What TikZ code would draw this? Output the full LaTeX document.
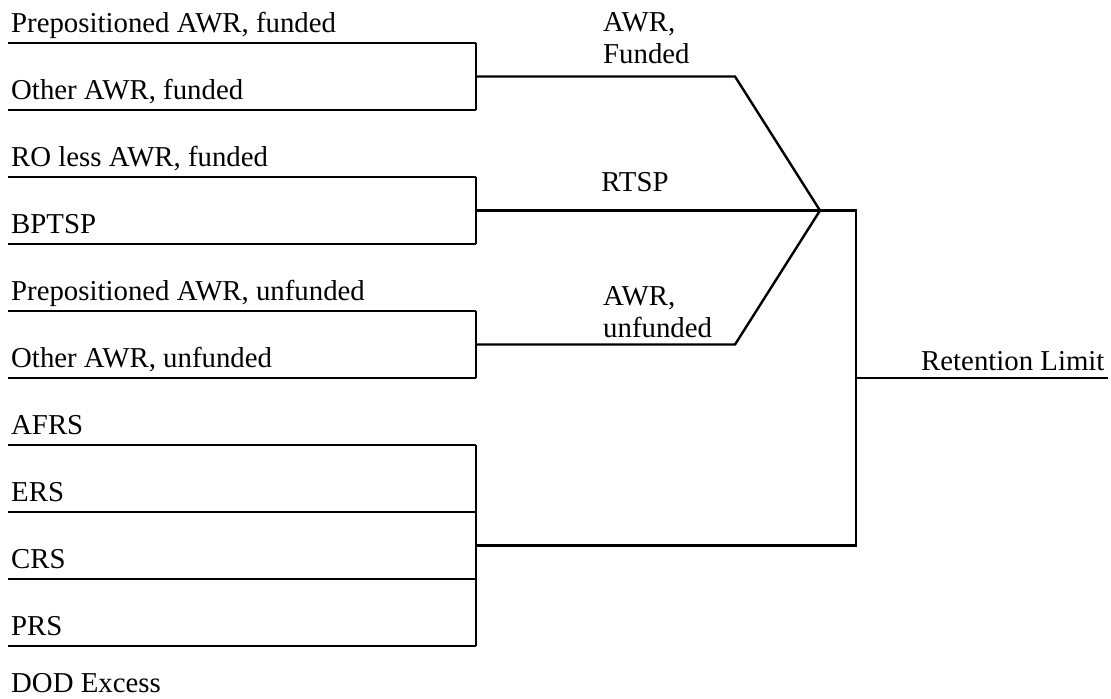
\documentclass[tikz,border=0pt]{standalone}
\usepackage{fontspec}
\setmainfont{Liberation Serif}

\begin{document}
\begin{tikzpicture}[x=0.5pt,y=-0.5pt,line width=1.2pt,every node/.style={inner sep=0,font=\fontsize{14.4}{16}\selectfont}]
  \useasboundingbox (0,0) rectangle (1111,698);
  % source rows, each with its rule
  \foreach \n/\y/\t in {pf/43/{Prepositioned AWR, funded},of/110/{Other AWR, funded},ro/177/{RO less AWR, funded},bp/244/BPTSP,pu/311/{Prepositioned AWR, unfunded},ou/378/{Other AWR, unfunded},afrs/445/AFRS,ers/512/ERS,crs/579/CRS,prs/646/PRS,dod/703/DOD Excess}{
    \node[anchor=base west] (\n) at (10,\y-11) {\t};
    \coordinate (\n-l) at (8,\y);
    \coordinate (\n-r) at (476,\y);
  }
  \foreach \n in {pf,of,ro,bp,pu,ou,afrs,ers,crs,prs}{\draw (\n-l)--(\n-r);}
  \foreach \x/\y in {pf/of,ro/bp,pu/ou,afrs/prs}{\draw (\x-r)--(\y-r);}
  % groups
  \coordinate (fnd) at (476,76.5);
  \coordinate (rtsp) at (476,210.5);
  \coordinate (unf) at (476,344.5);
  \coordinate (rs) at (476,545.5);
  \coordinate (fnd-e) at (735,76.5);
  \coordinate (unf-e) at (735,344.5);
  \coordinate (join) at (820,210.5);
  \coordinate (col) at (856,210.5);
  \coordinate (col-b) at (856,545.5);
  \coordinate (ret) at (856,378);
  \coordinate (ret-e) at (1108,378);
  \draw (fnd)--(fnd-e)--(join);
  \draw (unf)--(unf-e)--(join);
  \draw (rtsp)--(col)--(col-b)--(rs);
  \draw (ret)--(ret-e);
  \node[align=left,anchor=base west] (awrf) at (602,63.5) {AWR,\\Funded};
  \node[anchor=base] (rtspl) at (635,191.5) {RTSP};
  \node[align=left,anchor=base west] (awru) at (602,337) {AWR,\\unfunded};
  \node[anchor=base west] (retl) at (920,370) {Retention Limit};
\end{tikzpicture}
\end{document}
